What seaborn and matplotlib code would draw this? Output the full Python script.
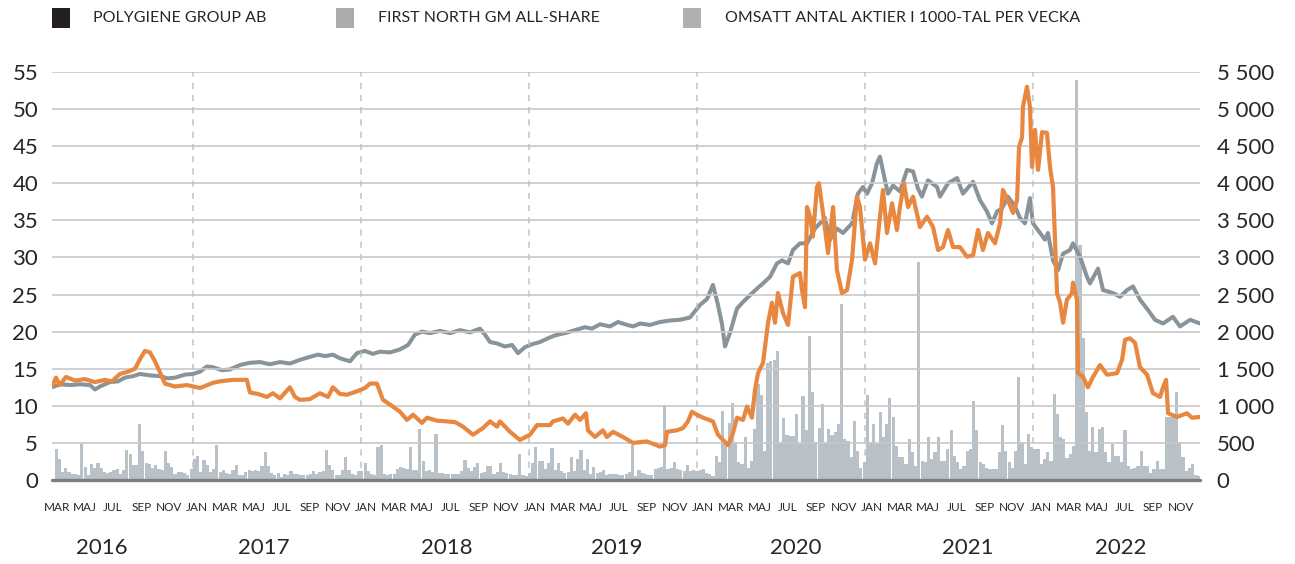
import numpy as np
import pandas as pd
import matplotlib
matplotlib.use("Agg")
import matplotlib.pyplot as plt
import matplotlib.transforms as mtransforms
from matplotlib.patches import Rectangle
from matplotlib.ticker import FuncFormatter
import seaborn as sns

# ---- data ----
# Polygiene share price (SEK, left axis), time as decimal years
poly_t = [
    2016.161, 2016.185, 2016.208, 2016.244, 2016.298, 2016.357, 2016.417, 2016.476, 2016.518, 2016.565,
    2016.613, 2016.655, 2016.685, 2016.714, 2016.744, 2016.774, 2016.804, 2016.833, 2016.893, 2016.964,
    2017.042, 2017.119, 2017.161, 2017.238, 2017.321, 2017.339, 2017.387, 2017.440, 2017.476, 2017.518,
    2017.577, 2017.607, 2017.637, 2017.696, 2017.756, 2017.804, 2017.833, 2017.875, 2017.917, 2017.982,
    2018.024, 2018.054, 2018.095, 2018.131, 2018.190, 2018.232, 2018.274, 2018.310, 2018.363, 2018.393,
    2018.452, 2018.512, 2018.560, 2018.607, 2018.667, 2018.726, 2018.768, 2018.810, 2018.827, 2018.887,
    2018.946,
    2019.006, 2019.048, 2019.125, 2019.143, 2019.202, 2019.232, 2019.274, 2019.304, 2019.339, 2019.351,
    2019.393, 2019.440, 2019.464, 2019.500, 2019.560, 2019.619, 2019.702, 2019.780, 2019.810, 2019.821,
    2019.881, 2019.917, 2019.946, 2019.970,
    2020.000, 2020.036, 2020.095, 2020.125, 2020.185, 2020.214, 2020.238, 2020.274, 2020.298, 2020.327,
    2020.345, 2020.363, 2020.393, 2020.423, 2020.446, 2020.464, 2020.482, 2020.512, 2020.542, 2020.571,
    2020.613, 2020.625, 2020.643, 2020.655, 2020.673, 2020.690, 2020.714, 2020.726, 2020.750, 2020.780,
    2020.810, 2020.833, 2020.863, 2020.893, 2020.923, 2020.952, 2020.970,
    2021.000, 2021.030, 2021.060, 2021.089, 2021.107, 2021.131, 2021.161, 2021.190, 2021.208, 2021.232,
    2021.256, 2021.286, 2021.327, 2021.369, 2021.405, 2021.435, 2021.464, 2021.494, 2021.524, 2021.565,
    2021.607, 2021.643, 2021.673, 2021.702, 2021.732, 2021.774, 2021.804, 2021.821, 2021.851, 2021.881,
    2021.905, 2021.917, 2021.935, 2021.940, 2021.964, 2021.982, 2021.994,
    2022.012, 2022.030, 2022.054, 2022.083, 2022.101, 2022.119, 2022.131, 2022.143, 2022.161, 2022.179,
    2022.202, 2022.232, 2022.238, 2022.262, 2022.268, 2022.298, 2022.327, 2022.357, 2022.399, 2022.440,
    2022.500, 2022.530, 2022.548, 2022.577, 2022.607, 2022.637, 2022.679, 2022.714, 2022.756, 2022.774,
    2022.792, 2022.804, 2022.857, 2022.917, 2022.946, 2022.994,
]
poly_v = [
    12.6, 13.8, 12.8, 13.9, 13.4, 13.6, 13.2, 13.5, 13.3, 14.3,
    14.6, 15.0, 16.3, 17.4, 17.2, 16.0, 14.5, 13.0, 12.6, 12.8,
    12.4, 13.1, 13.3, 13.5, 13.5, 11.8, 11.6, 11.2, 11.7, 11.0,
    12.5, 11.2, 10.8, 10.9, 11.7, 11.2, 12.5, 11.6, 11.5, 12.0,
    12.4, 13.0, 13.0, 10.8, 9.9, 9.2, 8.1, 8.8, 7.7, 8.4,
    8.0, 7.9, 7.8, 7.2, 6.1, 7.0, 7.9, 7.2, 7.9, 6.5,
    5.4,
    6.1, 7.4, 7.4, 7.9, 8.3, 7.6, 8.8, 8.1, 9.0, 6.7,
    5.8, 6.7, 5.8, 6.5, 5.8, 5.0, 5.2, 4.5, 4.7, 6.5,
    6.7, 7.0, 7.9, 9.2,
    8.8, 8.4, 7.9, 6.1, 4.7, 6.3, 8.4, 8.1, 9.9, 8.4,
    12.1, 14.4, 15.8, 21.2, 23.9, 21.2, 25.2, 22.5, 20.9, 27.4,
    27.9, 25.6, 23.3, 36.8, 35.5, 32.8, 39.5, 40.0, 36.0, 30.6,
    36.8, 28.3, 25.2, 25.6, 29.7, 38.2, 36.8,
    29.7, 31.9, 29.2, 35.5, 39.1, 33.3, 37.3, 33.7, 36.8, 40.0,
    36.8, 38.2, 34.1, 35.5, 34.1, 31.0, 31.4, 33.7, 31.4, 31.4,
    30.1, 30.3, 33.7, 31.0, 33.3, 31.9, 34.6, 39.1, 37.7, 36.0,
    37.7, 44.9, 46.2, 50.3, 53.0, 50.3, 42.2,
    47.2, 41.8, 46.9, 46.8, 42.2, 39.5, 32.4, 25.2, 23.9, 21.2,
    24.3, 25.2, 26.6, 24.3, 14.4, 13.9, 12.5, 13.9, 15.5, 14.2,
    14.4, 16.2, 18.9, 19.1, 18.5, 15.2, 14.2, 11.7, 11.2, 12.5,
    13.5, 9.0, 8.5, 9.0, 8.4, 8.5,
]

# First North GM All-Share (right axis)
index_t = [
    2016.161, 2016.208, 2016.268, 2016.327, 2016.387, 2016.417, 2016.446, 2016.506, 2016.554, 2016.595,
    2016.643, 2016.685, 2016.744, 2016.804, 2016.851, 2016.893, 2016.952,
    2017.000, 2017.042, 2017.083, 2017.119, 2017.173, 2017.220, 2017.280, 2017.339, 2017.399, 2017.458,
    2017.518, 2017.577, 2017.637, 2017.696, 2017.744, 2017.786, 2017.833, 2017.875, 2017.935, 2017.976,
    2018.024, 2018.071, 2018.113, 2018.173, 2018.232, 2018.280, 2018.321, 2018.363, 2018.411, 2018.470,
    2018.530, 2018.589, 2018.649, 2018.708, 2018.738, 2018.768, 2018.810, 2018.857, 2018.899, 2018.935,
    2018.976,
    2019.018, 2019.065, 2019.113, 2019.155, 2019.214, 2019.274, 2019.333, 2019.375, 2019.423, 2019.482,
    2019.530, 2019.571, 2019.619, 2019.661, 2019.720, 2019.780, 2019.839, 2019.899, 2019.958,
    2020.018, 2020.060, 2020.095, 2020.125, 2020.149, 2020.167, 2020.196, 2020.238, 2020.274, 2020.315,
    2020.357, 2020.393, 2020.435, 2020.476, 2020.506, 2020.542, 2020.571, 2020.613, 2020.655, 2020.702,
    2020.762, 2020.792, 2020.833, 2020.869, 2020.923, 2020.958, 2020.988,
    2021.012, 2021.042, 2021.071, 2021.089, 2021.119, 2021.137, 2021.167, 2021.208, 2021.250, 2021.286,
    2021.315, 2021.339, 2021.375, 2021.429, 2021.446, 2021.494, 2021.548, 2021.583, 2021.643, 2021.685,
    2021.726, 2021.756, 2021.786, 2021.815, 2021.851, 2021.893, 2021.923, 2021.952, 2021.982,
    2022.000, 2022.042, 2022.071, 2022.089, 2022.119, 2022.149, 2022.179, 2022.220, 2022.238, 2022.280,
    2022.321, 2022.339, 2022.387, 2022.417, 2022.476, 2022.518, 2022.560, 2022.595, 2022.637, 2022.685,
    2022.726, 2022.774, 2022.833, 2022.875, 2022.935, 2022.994,
]
index_v = [
    1250, 1290, 1280, 1290, 1280, 1220, 1260, 1320, 1330, 1380,
    1400, 1430, 1410, 1400, 1370, 1380, 1420,
    1430, 1460, 1530, 1520, 1480, 1490, 1550, 1580, 1590, 1560,
    1590, 1570, 1620, 1660, 1690, 1670, 1690, 1640, 1600, 1710,
    1740, 1700, 1730, 1720, 1760, 1820, 1960, 2000, 1980, 2010,
    1980, 2020, 1990, 2040, 1960, 1860, 1840, 1800, 1820, 1710,
    1790,
    1830, 1860, 1910, 1950, 1980, 2020, 2060, 2040, 2100, 2070,
    2130, 2100, 2070, 2110, 2090, 2130, 2150, 2160, 2190,
    2360, 2440, 2630, 2360, 2100, 1800, 1980, 2310, 2400, 2490,
    2580, 2650, 2740, 2920, 2960, 2920, 3100, 3190, 3190, 3390,
    3530, 3240, 3390, 3330, 3460, 3860, 3950,
    3860, 4000, 4270, 4360, 4040, 3860, 3970, 3890, 4180, 4160,
    3930, 3820, 4040, 3950, 3820, 4000, 4070, 3860, 4020, 3770,
    3620, 3460, 3620, 3660, 3820, 3690, 3530, 3460, 3800,
    3460, 3330, 3240, 3330, 2960, 2830, 3050, 3100, 3190, 3010,
    2740, 2650, 2850, 2560, 2520, 2470, 2560, 2610, 2430, 2290,
    2160, 2110, 2200, 2070, 2160, 2110,
]

# weekly turnover, thousands of shares (right axis)
volume_start = "2016-03-09"
volume = [
    # 2016 - 2018
    423, 288, 108, 162, 108, 86, 80, 72, 500, 175, 72,
    220, 162, 230, 166, 108, 99, 110, 140, 153, 86, 130,
    400, 355, 198, 198, 750, 390, 230, 220, 166, 207,
    153, 140, 390, 230, 175, 86, 108, 108, 99, 72, 150, 279,
    324, 108, 265, 198, 108, 153, 468, 108, 130, 99,
    86, 130, 198, 72, 63, 108, 140, 117, 140, 117,
    189, 378, 185, 95, 72, 99, 40, 86, 63, 117,
    86, 86, 72, 72, 72, 86, 117, 86, 108, 120, 400,
    198, 130, 72, 72, 140, 310, 130, 86, 72, 121,
    117, 230, 117, 86, 72, 445, 468, 86, 63, 80, 86,
    153, 175, 162, 150, 445, 140, 130, 693, 252, 117, 130, 110,
    617,
    # 2018 - 2019
    99, 90, 86, 86, 86, 77, 80, 117, 266, 162, 117, 176, 230,
    99, 108, 189, 189, 86, 108, 234, 108, 99, 86,
    72, 70, 356, 63, 54, 99, 230, 446, 257, 252, 144,
    230, 432, 140, 234, 117, 95, 108, 311, 117, 288,
    400, 130, 288, 86, 176, 99, 108, 130, 72, 86,
    77, 86, 63, 72, 86, 108, 468, 54, 130, 99,
    77, 72, 63, 144, 162, 176, 1008, 144, 162, 243,
    144, 130, 117, 207, 117, 130, 117,
    # 2020 - 2022
    136, 155, 91, 77, 55, 318, 236, 927, 509, 773,
    1032, 509, 236, 214, 577, 168, 259, 691, 1291, 1145,
    395, 1577, 1600, 1623, 1736, 509, 836, 600, 591, 591,
    895, 486, 1136, 668, 1941, 1182, 509, 700, 1018, 509,
    691, 600, 645, 759, 2373, 555, 532, 305, 791,
    395, 168, 236, 1145, 509, 759, 486, 918, 577,
    759, 1100, 850, 464, 305, 305, 214, 555, 373, 191,
    2941, 259, 236, 577, 282, 373, 586, 259, 259, 418,
    668, 327, 236, 145, 191, 395, 418, 1064, 668, 236,
    214, 168, 145, 155, 145, 373, 736, 395, 236,
    168, 395, 1395, 509, 214, 623, 441, 418, 418,
    214, 282, 373, 259, 1155, 895, 577, 555, 291, 350,
    464, 5395, 3168, 1918, 918, 395, 714, 373, 691, 714,
    373, 236, 486, 327, 327, 236, 668, 191, 145, 168,
    191, 395, 191, 191, 100, 145, 259, 145, 155, 850,
    850, 850, 1191, 509, 305, 123, 168, 214, 64, 55,
]

month_labels = ["MAR", "MAJ", "JUL", "SEP", "NOV"] + ["JAN", "MAR", "MAJ", "JUL", "SEP", "NOV"] * 6
year_labels = ["2016", "2017", "2018", "2019", "2020", "2021", "2022"]
year_label_pos = [2016.458, 2017.423, 2018.512, 2019.524, 2020.589, 2021.613, 2022.524]
year_breaks = [2017, 2018, 2019, 2020, 2021, 2022]
legend_labels = ["POLYGIENE GROUP AB", "FIRST NORTH GM ALL-SHARE",
                 "OMSATT ANTAL AKTIER I 1000-TAL PER VECKA"]

ORANGE = "#e8873f"
GREY_LINE = "#89939a"
BAR = "#b9c1c8"
GRID = "#c8c8c8"
TEXT = "#262626"

sns.set_theme(style="white")
plt.rcParams["font.family"] = ["Lato", "DejaVu Sans"]

W, H = 1295, 564
fig = plt.figure(figsize=(W / 100, H / 100), dpi=100)
ax = fig.add_axes([52 / W, 1 - 480 / H, (1200 - 52) / W, (480 - 72) / H])
ax2 = ax.twinx()
ax.set_zorder(ax2.get_zorder() + 1)
ax.patch.set_visible(False)

# weekly bars
bar_dates = pd.date_range(volume_start, periods=len(volume), freq="7D")
days_in_year = np.where(bar_dates.is_leap_year, 366, 365)
bar_t = bar_dates.year + (bar_dates.dayofyear - 1) / days_in_year
ax2.bar(bar_t, volume, width=6.8 / 365.25, color=BAR, linewidth=0, zorder=1)

# index line
sns.lineplot(x=index_t, y=index_v, ax=ax2, color=GREY_LINE, linewidth=2.9,
             sort=False, estimator=None, zorder=3)

# grid, baseline and year breaks on the top axes
for v in range(5, 60, 5):
    ax.axhline(v, color=GRID, linewidth=1.2, zorder=1)
ax.axhline(0, color="#7c7c7c", linewidth=2.4, zorder=2, clip_on=False)
for yb in year_breaks:
    ax.axvline(yb, color="#c2c2c2", linewidth=1.1, linestyle=(0, (4, 4)), zorder=1)

# share price line
sns.lineplot(x=poly_t, y=poly_v, ax=ax, color=ORANGE, linewidth=3.0,
             sort=False, estimator=None, zorder=4)

ax.set_xlim(2016.161, 2022.994)
ax.set_ylim(0, 55)
ax2.set_ylim(0, 5500)
ax.set_xlabel("")
ax.set_ylabel("")
ax2.set_ylabel("")

ax.set_yticks(range(0, 60, 5))
ax.tick_params(axis="y", length=0, pad=10, labelsize=16, labelcolor=TEXT)
ax2.set_yticks(range(0, 6000, 500))
ax2.yaxis.set_major_formatter(FuncFormatter(lambda v, p: f"{int(v):,}".replace(",", " ")))
ax2.tick_params(axis="y", length=0, pad=12, labelsize=16, labelcolor=TEXT)

ax.set_xticks(np.linspace(2016.190, 2022.881, len(month_labels)))
ax.set_xticklabels(month_labels, fontsize=8.5, color=TEXT)
ax.tick_params(axis="x", length=0, pad=16)
ax2.tick_params(axis="x", length=0, labelbottom=False)

for a in (ax, ax2):
    for s in a.spines.values():
        s.set_visible(False)
    a.grid(False)

trans = mtransforms.blended_transform_factory(ax.transData, ax.transAxes)
for pos, lab in zip(year_label_pos, year_labels):
    ax.text(pos, -0.167, lab, transform=trans, ha="center", va="center",
            fontsize=16, color=TEXT)

# legend drawn as squares + text along the top
legend_x = [52, 336, 683]
legend_text_x = [93, 378, 725]
legend_colors = ["#231f20", "#ababab", "#b0b0b0"]
for sx, tx, col, lab in zip(legend_x, legend_text_x, legend_colors, legend_labels):
    fig.add_artist(Rectangle((sx / W, 1 - 28 / H), 18 / W, 20 / H,
                             transform=fig.transFigure, color=col, linewidth=0))
    fig.text(tx / W, 1 - 18 / H, lab, ha="left", va="center", fontsize=11.5,
             color=TEXT)

fig.savefig("out.png", dpi=100)
